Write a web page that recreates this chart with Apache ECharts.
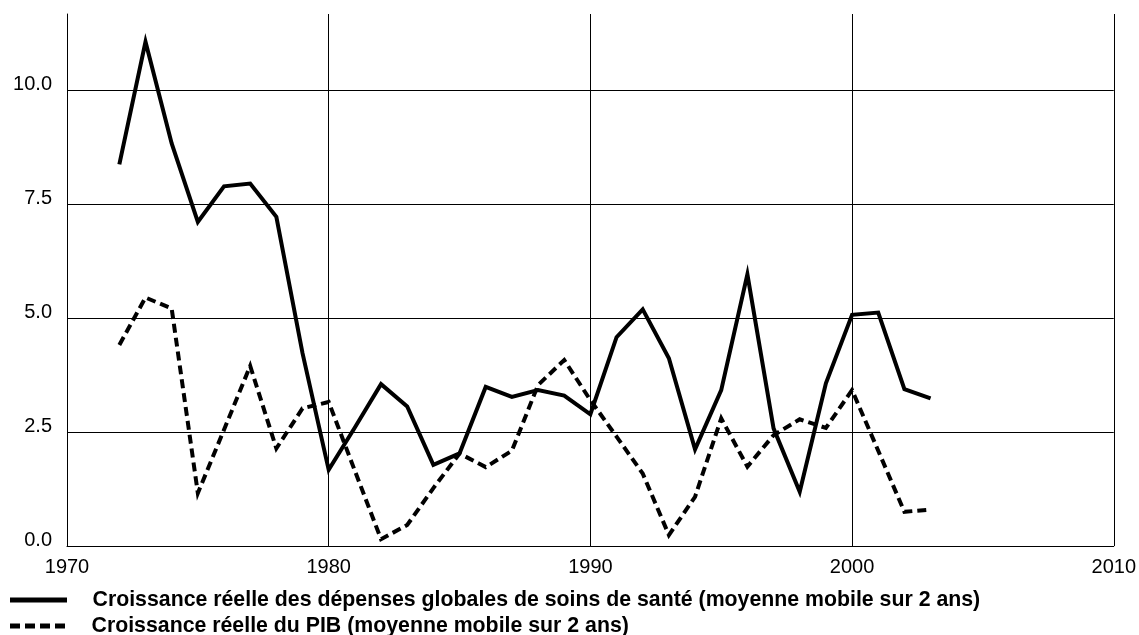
<!DOCTYPE html>
<html>
<head>
<meta charset="utf-8">
<script src="https://cdn.jsdelivr.net/npm/echarts@6/dist/echarts.min.js"></script>
<style>
  html, body { margin: 0; padding: 0; background: #fff; }
  #chart { width: 1139px; height: 635px; }
</style>
</head>
<body>
<div id="chart"></div>
<script>
// années (moyennes mobiles sur 2 ans)
const years = [1972, 1973, 1974, 1975, 1976, 1977, 1978, 1979, 1980, 1981, 1982,
  1983, 1984, 1985, 1986, 1987, 1988, 1989, 1990, 1991, 1992, 1993, 1994, 1995,
  1996, 1997, 1998, 1999, 2000, 2001, 2002, 2003];
const healthSpending = [8.37, 11.06, 8.83, 7.11, 7.89, 7.95, 7.22, 4.23, 1.67, 2.6,
  3.55, 3.06, 1.78, 2.03, 3.49, 3.27, 3.42, 3.30, 2.89, 4.58, 5.19, 4.12, 2.12,
  3.42, 5.96, 2.58, 1.19, 3.57, 5.07, 5.12, 3.44, 3.24];
const gdpGrowth = [4.41, 5.45, 5.21, 1.16, 2.55, 3.95, 2.14, 3.02, 3.16, 1.65, 0.15,
  0.46, 1.27, 2.03, 1.73, 2.09, 3.53, 4.08, 3.2, 2.4, 1.59, 0.24, 1.08, 2.8, 1.74,
  2.43, 2.78, 2.59, 3.42, 2.09, 0.75, 0.8];
const seriesNames = [
  "Croissance réelle des dépenses globales de soins de santé (moyenne mobile sur 2 ans)",
  "Croissance réelle du PIB (moyenne mobile sur 2 ans)",
];
const yTicks = ["0.0", "2.5", "5.0", "7.5", "10.0"];

const font = "'Liberation Sans', Arial, Helvetica, sans-serif";
const pairs = (vals) => years.map((y, i) => [y, vals[i]]);

// légende : une ligne par série
const legendText = {
  fontFamily: font,
  fontSize: 21.3,
  fontWeight: "bold",
  color: "#000",
  lineHeight: 22,
  padding: [0, 0, 0, 20],
};
const solidIcon = "path://M0,0h57v5h-57z";
const dashIcon = "path://M0,0h10v5h-10z M15,0h10v5h-10z M30,0h10v5h-10z M45,0h10v5h-10z";

const myChart = echarts.init(document.getElementById("chart"));
const option = {
  animation: false,
  grid: { left: 67, right: 25, top: 14, bottom: 89 },
  legend: [
    {
      left: 10,
      top: 589,
      padding: 0,
      itemWidth: 58,
      itemHeight: 5,
      selectedMode: false,
      textStyle: legendText,
      data: [{ name: seriesNames[0], icon: solidIcon }],
    },
    {
      left: 10,
      top: 615,
      padding: 0,
      itemWidth: 58,
      itemHeight: 5,
      selectedMode: false,
      textStyle: legendText,
      data: [{ name: seriesNames[1], icon: dashIcon }],
    },
  ],
  xAxis: {
    type: "value",
    min: 1970,
    max: 2010,
    interval: 10,
    axisLine: { show: true, lineStyle: { color: "#000", width: 1 } },
    axisTick: { show: false },
    axisLabel: {
      fontFamily: font,
      fontSize: 20,
      color: "#000",
      margin: 11,
      formatter: (v) => String(v),
    },
    splitLine: { show: true, lineStyle: { color: "#000", width: 1 } },
  },
  yAxis: {
    type: "value",
    min: 0,
    max: 11.67,
    interval: 2.5,
    axisLine: { show: true, lineStyle: { color: "#000", width: 1 } },
    axisTick: { show: false },
    axisLabel: {
      fontFamily: font,
      fontSize: 20,
      color: "#000",
      margin: 15,
      verticalAlign: "bottom",
      lineHeight: 12,
      showMaxLabel: false,
      formatter: (v) => {
        const i = Math.round(v / 2.5);
        return Math.abs(v - i * 2.5) < 1e-6 ? yTicks[i] || "" : "";
      },
    },
    splitLine: {
      show: true,
      lineStyle: {
        color: ["#000", "#000", "#000", "#000", "#000", "rgba(0,0,0,0)"],
        width: 1,
      },
    },
  },
  series: [
    {
      name: seriesNames[0],
      type: "line",
      symbol: "none",
      data: pairs(healthSpending),
      lineStyle: { color: "#000", width: 4, join: "miter", cap: "butt" },
      itemStyle: { color: "#000" },
    },
    {
      name: seriesNames[1],
      type: "line",
      symbol: "none",
      data: pairs(gdpGrowth),
      lineStyle: { color: "#000", width: 4, type: [9, 5], join: "miter", cap: "butt" },
      itemStyle: { color: "#000" },
    },
  ],
};
myChart.setOption(option);
</script>
</body>
</html>
